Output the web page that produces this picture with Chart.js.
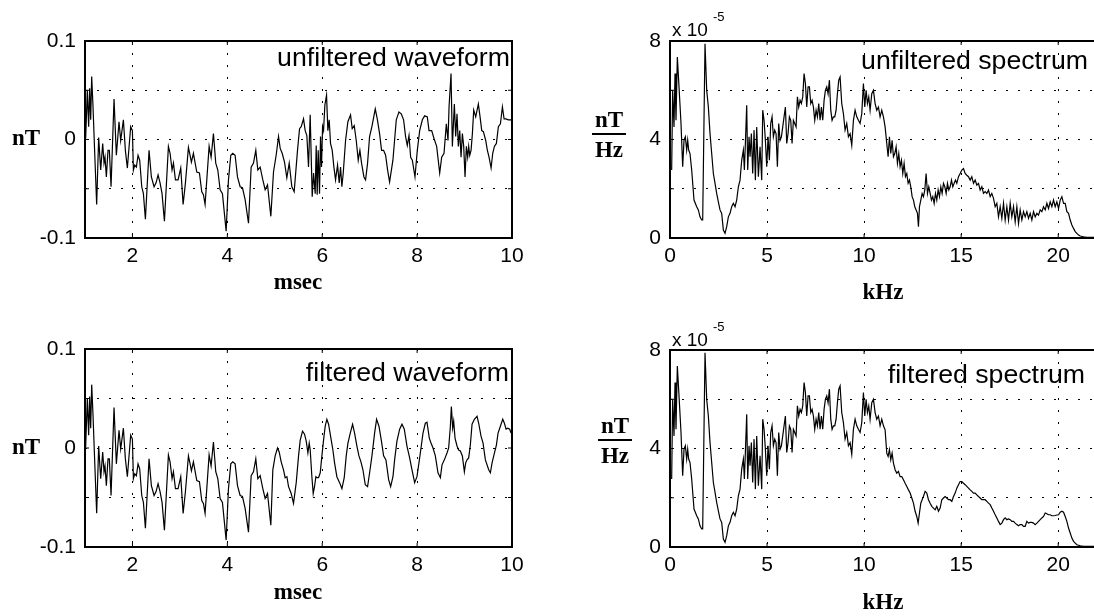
<!DOCTYPE html>
<html>
<head>
<meta charset="utf-8">
<script src="https://cdn.jsdelivr.net/npm/chart.js@4.4.1/dist/chart.umd.min.js"></script>
<style>
  body { margin: 0; width: 1094px; height: 616px; overflow: hidden; background: #fff; position: relative; }
  canvas { position: absolute; }
  .lbl { position: absolute; line-height: 1; white-space: nowrap; color: #000; }
  .sans { font-family: "Liberation Sans", Arial, sans-serif; }
  .serif { font-family: "Liberation Serif", "Times New Roman", serif; font-weight: bold; font-size: 23px; }
  .title { font-size: 26.7px; }
  .frac { position: absolute; text-align: center; width: 40px; }
  .frac .bar { position: absolute; left: 3px; width: 34px; height: 2px; background: #000; }
</style>
</head>
<body>
<canvas id="wave1" width="530" height="300" style="left:0;top:0"></canvas>
<canvas id="spec1" width="530" height="300" style="left:580px;top:0"></canvas>
<canvas id="wave2" width="530" height="300" style="left:0;top:300px"></canvas>
<canvas id="spec2" width="530" height="300" style="left:580px;top:300px"></canvas>

<div class="lbl sans title" style="right:584px;top:44px">unfiltered waveform</div>
<div class="lbl sans title" style="right:6px;top:47px">unfiltered spectrum</div>
<div class="lbl sans title" style="right:585px;top:359px">filtered waveform</div>
<div class="lbl sans title" style="right:9px;top:361px">filtered spectrum</div>

<div class="lbl serif" style="left:12px;top:126px">nT</div>
<div class="lbl serif" style="left:12px;top:435px">nT</div>
<div class="lbl serif" style="left:198px;width:200px;text-align:center;top:270px">msec</div>
<div class="lbl serif" style="left:198px;width:200px;text-align:center;top:580px">msec</div>
<div class="lbl serif" style="left:833px;width:100px;text-align:center;top:280px">kHz</div>
<div class="lbl serif" style="left:833px;width:100px;text-align:center;top:590px">kHz</div>

<div class="frac serif" style="left:589px;top:108px;height:60px">
  <div class="lbl" style="left:0;width:40px;top:0">nT</div>
  <div class="bar" style="top:25px"></div>
  <div class="lbl" style="left:0;width:40px;top:30px">Hz</div>
</div>
<div class="frac serif" style="left:595px;top:414px;height:60px">
  <div class="lbl" style="left:0;width:40px;top:0">nT</div>
  <div class="bar" style="top:25px"></div>
  <div class="lbl" style="left:0;width:40px;top:30px">Hz</div>
</div>

<div class="lbl sans" style="left:672px;top:20px;font-size:19px">x 10</div>
<div class="lbl sans" style="left:713px;top:10px;font-size:13px">-5</div>
<div class="lbl sans" style="left:672px;top:330px;font-size:19px">x 10</div>
<div class="lbl sans" style="left:713px;top:320px;font-size:13px">-5</div>

<script>
// waveform, msec / nT (start is the same for both traces)
var waveEarlyT = [1.014,1.049,1.077,1.098,1.120,1.141,1.169,1.197,1.246,1.288,1.331,1.373,1.401,1.422,1.450,1.485,1.513,1.549,1.612,1.661,1.717,1.752,1.809,1.851,1.893,1.963,1.999,2.020,2.048,2.083,2.118,2.153,2.196,2.231,2.273,2.350,2.399,2.456,2.498,2.540,2.582,2.624,2.674,2.758,2.793,2.835,2.864,2.906,2.962,3.018,3.068,3.117,3.180,3.215,3.243,3.285,3.356,3.412,3.461,3.496,3.531,3.616,3.658,3.707,3.756,3.799,3.848,3.897,3.975,4.024,4.073,4.115,4.164,4.214,4.270,4.319,4.375,4.446,4.502,4.551,4.600,4.643,4.692,4.748,4.797,4.847,4.917];
var waveEarlyV = [0.001,0.050,0.013,0.052,0.020,0.064,0.033,-0.004,-0.066,0.002,-0.031,-0.004,-0.024,-0.018,-0.038,-0.011,-0.011,-0.048,0.041,-0.016,0.018,-0.001,0.020,-0.011,-0.029,0.013,0.009,-0.031,-0.026,-0.028,-0.016,-0.021,-0.048,-0.055,-0.081,-0.011,-0.038,-0.048,-0.044,-0.036,-0.044,-0.055,-0.083,-0.007,-0.014,-0.031,-0.024,-0.041,-0.041,-0.029,-0.066,-0.044,-0.008,-0.016,-0.023,-0.014,-0.033,-0.034,-0.053,-0.056,-0.066,-0.007,-0.018,0.006,-0.024,-0.031,-0.051,-0.055,-0.093,-0.041,-0.016,-0.014,-0.016,-0.038,-0.048,-0.049,-0.061,-0.085,-0.028,-0.024,-0.011,-0.031,-0.028,-0.041,-0.051,-0.046,-0.078];

var unfLateT = [4.973,5.029,5.079,5.114,5.156,5.205,5.254,5.304,5.360,5.409,5.479,5.522,5.557,5.606,5.641,5.676,5.711,5.746,5.789,5.817,5.852,5.873,5.894,5.915,5.943,5.964,5.985,6.007,6.028,6.056,6.091,6.119,6.147,6.175,6.211,6.246,6.281,6.323,6.358,6.386,6.414,6.443,6.492,6.541,6.597,6.632,6.675,6.717,6.759,6.794,6.829,6.879,6.914,6.956,6.998,7.047,7.118,7.160,7.209,7.251,7.293,7.336,7.378,7.420,7.490,7.561,7.617,7.666,7.715,7.757,7.793,7.829,7.864,7.899,7.955,8.004,8.054,8.110,8.159,8.215,8.251,8.307,8.356,8.412,8.476,8.518,8.567,8.616,8.651,8.673,8.715,8.743,8.785,8.813,8.841,8.869,8.898,8.926,8.954,8.982,9.010,9.038,9.066,9.087,9.109,9.137,9.165,9.193,9.235,9.291,9.327,9.362,9.397,9.446,9.481,9.516,9.559,9.594,9.629,9.671,9.713,9.756,9.798,9.833,9.868,9.924,9.981,10.0];
var unfLateV = [-0.033,-0.016,0.003,-0.009,-0.014,-0.023,-0.039,-0.024,-0.048,-0.053,-0.011,0.011,0.013,0.021,0.009,0.004,-0.028,0.025,-0.058,-0.034,-0.055,-0.006,-0.056,-0.011,-0.055,0.003,-0.028,0.013,0.009,0.035,0.045,0.009,0.020,-0.004,-0.011,-0.028,-0.041,-0.026,-0.044,-0.028,-0.048,-0.034,-0.001,0.018,0.025,0.011,0.014,-0.001,-0.021,-0.011,-0.024,-0.038,-0.041,-0.024,0.003,0.013,0.031,0.021,0.006,-0.011,-0.011,-0.016,-0.031,-0.043,-0.021,0.020,0.028,0.026,0.020,0.003,-0.006,0.004,-0.018,-0.021,-0.038,-0.011,0.009,0.020,0.024,0.023,0.009,0.009,0.001,-0.007,-0.034,-0.018,-0.014,0.016,-0.001,0.033,0.067,-0.007,0.036,0.003,0.026,-0.007,0.009,-0.018,0.006,-0.007,-0.038,-0.007,-0.018,-0.007,-0.016,-0.011,0.006,0.030,0.023,0.036,0.023,0.009,0.008,-0.001,-0.011,-0.018,-0.029,-0.014,-0.007,-0.004,0.013,0.016,0.033,0.021,0.021,0.020,0.020,0.018];

var filtLateT = [4.959,5.008,5.058,5.093,5.135,5.184,5.219,5.255,5.290,5.346,5.395,5.452,5.501,5.536,5.585,5.627,5.663,5.698,5.726,5.747,5.782,5.810,5.838,5.866,5.888,5.923,5.958,5.993,6.028,6.063,6.098,6.134,6.183,6.225,6.260,6.309,6.366,6.415,6.464,6.506,6.542,6.591,6.640,6.682,6.731,6.774,6.816,6.858,6.907,6.956,6.999,7.048,7.104,7.146,7.196,7.245,7.294,7.343,7.400,7.442,7.491,7.526,7.575,7.632,7.681,7.730,7.786,7.843,7.892,7.948,7.997,8.039,8.082,8.124,8.173,8.208,8.257,8.293,8.335,8.384,8.440,8.490,8.525,8.574,8.630,8.665,8.701,8.722,8.750,8.771,8.799,8.841,8.876,8.911,8.954,8.996,9.024,9.052,9.087,9.122,9.158,9.207,9.263,9.298,9.347,9.390,9.439,9.509,9.544,9.580,9.615,9.671,9.706,9.755,9.805,9.840,9.875,9.910,9.952,9.980];
var filtLateV = [-0.022,-0.008,0.000,-0.004,-0.014,-0.022,-0.030,-0.029,-0.039,-0.046,-0.056,-0.035,-0.008,0.008,0.017,0.014,0.007,-0.005,0.005,-0.002,-0.029,-0.046,-0.039,-0.029,-0.030,-0.030,-0.025,-0.008,0.008,0.022,0.029,0.024,0.010,-0.002,-0.015,-0.029,-0.035,-0.041,-0.030,-0.008,0.005,0.015,0.024,0.015,0.002,-0.008,-0.014,-0.022,-0.037,-0.039,-0.025,-0.008,0.015,0.029,0.022,0.008,-0.008,-0.012,-0.032,-0.039,-0.029,-0.012,0.007,0.019,0.024,0.019,0.002,-0.010,-0.022,-0.035,-0.029,-0.015,0.000,0.015,0.025,0.026,0.010,0.005,0.000,-0.008,-0.025,-0.030,-0.017,-0.012,-0.005,0.000,0.022,0.042,0.020,0.027,0.010,0.002,-0.002,-0.003,-0.008,-0.024,-0.015,-0.012,-0.010,0.003,0.024,0.029,0.032,0.025,0.012,0.005,-0.012,-0.022,-0.025,-0.015,-0.008,0.003,0.015,0.022,0.029,0.025,0.019,0.020,0.019,0.015];

// spectrum, kHz / (x 10^-5 nT/Hz); low band is the same for both traces
var specLowF = [0.086,0.137,0.206,0.258,0.309,0.378,0.464,0.567,0.653,0.722,0.790,0.859,0.911,0.962,1.031,1.117,1.237,1.375,1.460,1.546,1.632,1.684,1.804,1.890,1.976,2.062,2.148,2.234,2.320,2.405,2.491,2.577,2.663,2.749,2.835,2.921,3.007,3.093,3.179,3.265,3.351,3.436,3.522,3.608,3.694,3.780,3.832,3.883,3.952,4.003,4.072,4.124,4.192,4.261,4.330,4.399,4.467,4.553,4.639,4.725,4.777,4.845,4.914,4.983,5.052,5.120,5.189,5.258,5.326,5.395,5.464,5.533,5.601,5.670,5.739,5.808,5.876,5.945,6.014,6.082,6.151,6.220,6.289,6.357,6.426,6.495,6.564,6.632,6.701,6.770,6.838,6.907,6.976,7.045,7.113,7.182,7.251,7.320,7.388,7.457,7.526,7.595,7.663,7.732,7.801,7.869,7.938,8.007,8.076,8.144,8.213,8.282,8.351,8.419,8.488,8.557,8.625,8.694,8.763,8.848,8.934,9.020,9.106,9.192,9.278,9.364,9.450,9.536,9.622,9.707,9.793,9.879,9.965,10.034,10.103,10.171,10.240,10.309,10.395,10.481,10.567,10.652,10.738,10.824,10.910,10.996];
var specLowV = [2.76,6.00,4.51,6.68,4.78,7.35,6.14,4.65,2.89,3.97,4.11,3.57,3.97,3.57,3.43,2.76,1.54,1.27,1.14,0.86,0.73,0.73,7.89,6.00,5.32,4.24,3.43,2.62,2.22,1.81,1.47,1.14,1.00,0.32,0.19,0.46,0.86,1.00,1.27,1.41,1.27,1.54,2.08,2.35,3.16,3.57,2.76,3.84,5.39,2.76,4.11,3.30,4.24,2.62,4.38,2.35,4.51,2.49,3.70,2.35,5.19,4.78,3.97,2.89,4.11,3.16,4.65,4.92,4.11,4.38,4.24,2.89,4.65,3.97,4.11,4.51,4.92,5.32,3.84,4.24,4.92,4.78,3.84,4.78,4.65,4.51,5.73,5.32,5.59,5.46,5.73,6.68,6.27,5.32,6.14,6.14,5.46,5.59,5.32,4.78,5.19,4.92,5.46,4.78,5.32,4.78,5.59,6.00,6.14,5.86,6.41,5.19,4.78,4.92,4.92,5.19,5.86,6.41,6.54,5.46,5.05,4.38,4.65,4.11,4.24,3.77,4.78,5.19,4.92,4.78,4.65,5.05,6.27,5.32,6.00,5.46,5.73,5.19,5.86,6.00,5.46,5.19,5.32,4.92,5.19,4.92];

var unfHighF = [11.082,11.168,11.237,11.305,11.374,11.443,11.512,11.580,11.649,11.718,11.787,11.855,11.924,11.993,12.061,12.130,12.199,12.268,12.336,12.405,12.474,12.543,12.611,12.680,12.749,12.800,12.852,12.921,12.989,13.058,13.127,13.195,13.264,13.333,13.402,13.470,13.539,13.608,13.677,13.745,13.814,13.883,13.952,14.020,14.089,14.158,14.227,14.295,14.364,14.433,14.501,14.570,14.639,14.708,14.776,14.862,14.948,15.034,15.120,15.206,15.292,15.378,15.464,15.549,15.635,15.721,15.807,15.893,15.979,16.065,16.151,16.237,16.323,16.409,16.495,16.580,16.666,16.752,16.838,16.924,17.010,17.096,17.182,17.268,17.354,17.440,17.526,17.611,17.697,17.783,17.869,17.955,18.041,18.127,18.213,18.299,18.385,18.470,18.556,18.642,18.728,18.814,18.900,18.986,19.072,19.158,19.244,19.330,19.415,19.501,19.587,19.673,19.759,19.845,19.931,20.017,20.103,20.189,20.275,20.361,20.446,20.532,20.618,20.704,20.790,20.876,20.962,21.048,21.134,21.305,21.477,21.649,21.856,22.05];
var unfHighV = [4.51,3.84,3.30,4.11,3.43,3.97,3.30,3.43,3.70,3.03,3.43,2.89,3.16,2.62,3.03,2.49,2.62,2.22,2.35,2.08,1.68,1.54,1.27,1.14,1.00,0.46,1.27,1.54,1.81,1.68,1.95,2.62,1.81,2.08,1.81,1.54,1.68,1.41,1.81,1.54,1.95,1.68,2.08,1.81,2.22,2.08,1.81,2.22,1.95,2.08,2.35,2.08,2.22,2.35,2.22,2.49,2.62,2.76,2.82,2.62,2.55,2.49,2.35,2.49,2.22,2.35,2.15,2.22,1.95,2.08,1.81,1.88,1.81,1.95,1.68,1.81,1.61,1.27,1.41,0.86,1.27,0.80,1.41,0.73,1.27,0.73,1.41,0.86,1.27,0.66,1.27,0.59,1.14,0.73,1.07,0.86,1.07,0.80,1.00,0.73,1.07,0.86,1.00,0.93,1.14,1.07,1.27,1.14,1.41,1.20,1.47,1.27,1.54,1.27,1.47,1.20,1.54,1.68,1.41,1.41,1.07,1.00,0.73,0.53,0.39,0.26,0.19,0.12,0.08,0.05,0.03,0.03,0.03,0.02];

var filtHighF = [11.082,11.168,11.237,11.305,11.374,11.443,11.512,11.597,11.683,11.769,11.855,11.941,12.027,12.113,12.199,12.285,12.371,12.457,12.543,12.628,12.714,12.783,12.852,12.921,12.989,13.058,13.144,13.230,13.316,13.402,13.488,13.574,13.660,13.745,13.831,13.917,14.003,14.089,14.175,14.261,14.347,14.433,14.519,14.605,14.690,14.776,14.862,14.948,15.034,15.120,15.206,15.292,15.378,15.464,15.549,15.635,15.721,15.807,15.893,15.979,16.065,16.151,16.237,16.323,16.409,16.495,16.580,16.666,16.752,16.838,16.924,17.010,17.096,17.182,17.268,17.354,17.440,17.526,17.611,17.697,17.783,17.869,17.955,18.041,18.127,18.213,18.299,18.385,18.470,18.556,18.642,18.728,18.814,18.900,18.986,19.072,19.158,19.244,19.330,19.415,19.501,19.587,19.673,19.759,19.845,19.931,20.017,20.103,20.189,20.275,20.361,20.446,20.532,20.618,20.704,20.790,20.876,20.962,21.134,21.305,21.856,22.05];
var filtHighV = [4.76,3.81,3.68,3.95,3.54,3.81,3.41,3.14,3.00,3.07,2.86,2.86,2.73,2.59,2.46,2.32,2.19,1.99,1.78,1.45,1.24,0.97,1.38,1.78,1.92,2.05,2.26,2.19,1.92,1.78,1.65,1.58,1.51,1.65,1.45,1.58,1.92,1.99,2.05,1.99,1.92,1.92,1.85,2.05,2.19,2.39,2.53,2.66,2.66,2.59,2.53,2.46,2.39,2.32,2.26,2.19,2.19,2.12,2.05,1.99,1.92,1.92,1.92,1.85,1.78,1.72,1.58,1.45,1.31,1.18,1.04,0.91,0.97,1.11,1.18,1.11,1.14,1.11,1.04,1.04,0.97,0.91,0.86,0.91,0.91,0.84,0.84,1.04,0.97,1.00,1.00,0.97,0.91,0.97,1.04,1.11,1.18,1.24,1.38,1.35,1.31,1.31,1.27,1.27,1.28,1.30,1.31,1.41,1.45,1.41,1.24,1.04,0.77,0.57,0.36,0.23,0.16,0.09,0.05,0.03,0.03,0.02];

// ticks
var msTicks = [2, 4, 6, 8, 10];
var nTTicks = [-0.1, -0.05, 0, 0.05, 0.1];
var nTLabels = [-0.1, 0, 0.1];
var kHzTicks = [0, 5, 10, 15, 20];
var specTicks = [0, 2, 4, 6, 8];
var specLabels = [0, 4, 8];

function toPts(xs, ys) {
  return xs.map(function(x, i) { return {x: x, y: ys[i]}; });
}

var tickFont = {family: '"Liberation Sans", Arial, sans-serif', size: 21};

// box round the plot with small inward ticks, matlab style
var frame = {
  id: 'frame',
  afterDraw: function(chart) {
    var ctx = chart.ctx, a = chart.chartArea, sx = chart.scales.x, sy = chart.scales.y;
    ctx.save();
    ctx.strokeStyle = '#000';
    ctx.lineWidth = 1;
    ctx.beginPath();
    sx.ticks.forEach(function(t) {
      var p = sx.getPixelForValue(t.value);
      ctx.moveTo(p, a.bottom); ctx.lineTo(p, a.bottom - 4);
      ctx.moveTo(p, a.top); ctx.lineTo(p, a.top + 4);
    });
    sy.ticks.forEach(function(t) {
      var p = sy.getPixelForValue(t.value);
      ctx.moveTo(a.left, p); ctx.lineTo(a.left + 4, p);
      ctx.moveTo(a.right, p); ctx.lineTo(a.right - 4, p);
    });
    ctx.stroke();
    ctx.lineWidth = 2;
    ctx.strokeRect(a.left, a.top, a.right - a.left, a.bottom - a.top);
    ctx.restore();
  }
};

function axis(min, max, ticks, labels, size, isX) {
  return {
    type: 'linear',
    min: min,
    max: max,
    afterBuildTicks: function(s) { s.ticks = ticks.map(function(v) { return {value: v}; }); },
    afterFit: function(s) { if (isX) { s.height = size; } else { s.width = size; } },
    grid: {color: '#000', lineWidth: 1, drawTicks: false, borderDash: [2, 10]},
    border: {display: false, dash: [2, 10]},
    ticks: {
      color: '#000',
      font: tickFont,
      padding: isX ? 6 : 9,
      maxRotation: 0,
      autoSkip: false,
      callback: function(v) { return labels.indexOf(v) >= 0 ? String(v) : ''; }
    }
  };
}

function plot(id, pts, x, y, padTop, padRight) {
  return new Chart(document.getElementById(id), {
    type: 'line',
    data: {
      datasets: [{
        data: pts,
        borderColor: '#000',
        borderWidth: 1.2,
        pointRadius: 0,
        tension: 0,
        fill: false
      }]
    },
    options: {
      responsive: false,
      animation: false,
      events: [],
      layout: {padding: {top: padTop, right: padRight, left: 0, bottom: 0}, autoPadding: false},
      plugins: {legend: {display: false}, tooltip: {enabled: false}},
      scales: {x: x, y: y}
    },
    plugins: [frame]
  });
}

plot('wave1', toPts(waveEarlyT.concat(unfLateT), waveEarlyV.concat(unfLateV)),
  axis(1, 10, msTicks, msTicks, 62, true),
  axis(-0.1, 0.1, nTTicks, nTLabels, 85, false), 41, 18);

plot('wave2', toPts(waveEarlyT.concat(filtLateT), waveEarlyV.concat(filtLateV)),
  axis(1, 10, msTicks, msTicks, 53, true),
  axis(-0.1, 0.1, nTTicks, nTLabels, 85, false), 49, 18);

plot('spec1', toPts(specLowF.concat(unfHighF), specLowV.concat(unfHighV)),
  axis(0, 22.05, kHzTicks, kHzTicks, 62, true),
  axis(0, 8, specTicks, specLabels, 90, false), 41, 12);

plot('spec2', toPts(specLowF.concat(filtHighF), specLowV.concat(filtHighV)),
  axis(0, 22.05, kHzTicks, kHzTicks, 53, true),
  axis(0, 8, specTicks, specLabels, 90, false), 50, 12);
</script>
</body>
</html>
